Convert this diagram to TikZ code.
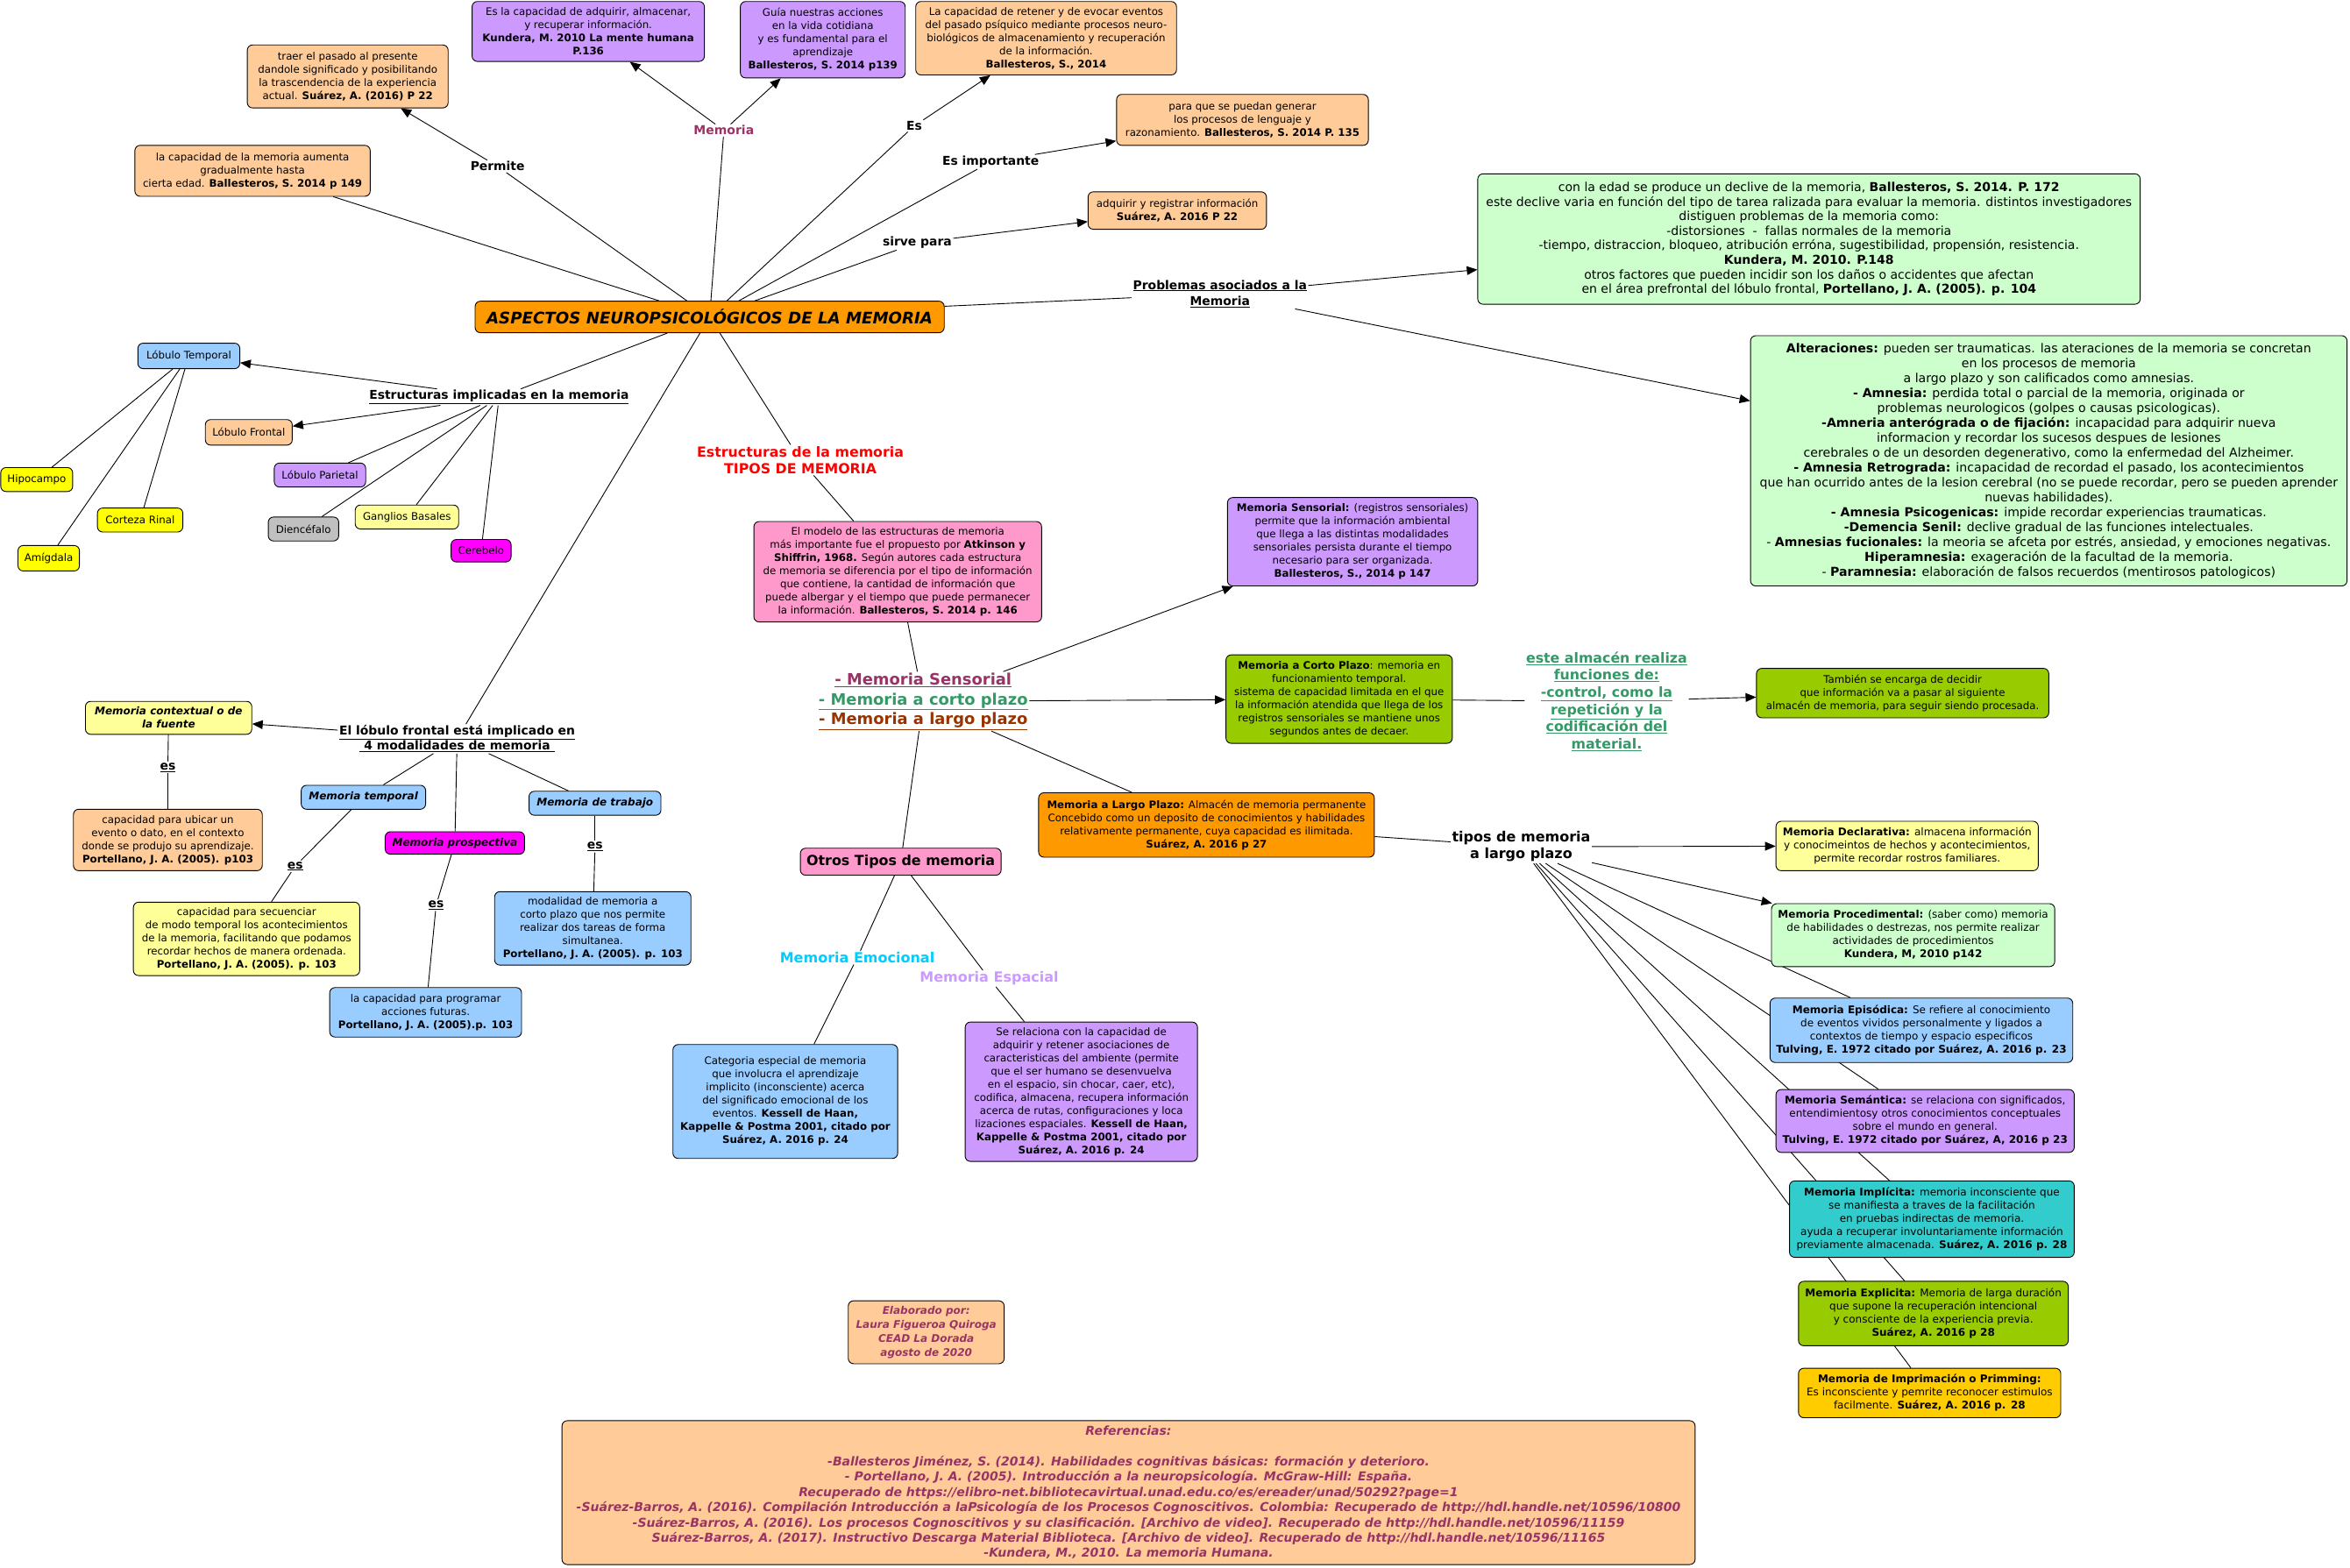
\documentclass[tikz,border=0pt]{standalone}
\usepackage{fontspec}
\setmainfont{DejaVu Sans}
\usepackage{tikz}
\usetikzlibrary{arrows.meta,backgrounds}
\definecolor{peach}{HTML}{FFCC99}
\definecolor{lilac}{HTML}{CC99FF}
\definecolor{sky}{HTML}{99CCFF}
\definecolor{mint}{HTML}{CCFFCC}
\definecolor{leaf}{HTML}{99CC00}
\definecolor{tangerine}{HTML}{FF9900}
\definecolor{blush}{HTML}{FF99CC}
\definecolor{aqua}{HTML}{33CCCC}
\definecolor{sun}{HTML}{FFCC00}
\definecolor{lemon}{HTML}{FFFF00}
\definecolor{cream}{HTML}{FFFF99}
\definecolor{fuchsia}{HTML}{FF00FF}
\definecolor{silver}{HTML}{C0C0C0}
\definecolor{plum}{HTML}{993366}
\definecolor{fern}{HTML}{339966}
\definecolor{rust}{HTML}{993300}
\definecolor{scarlet}{HTML}{FF0000}
\definecolor{azure}{HTML}{00CCFF}
\tikzset{conceptbox/.style={draw=black,line width=.9pt,rounded corners=6pt,align=center,inner sep=2pt,font=\fontsize{11.8}{15}\selectfont},boxsize/.style 2 args={minimum width=#1*1.7098pt,minimum height=#2*1.7098pt},rightbox/.style={conceptbox,font=\fontsize{12}{15}\selectfont},linkword/.style={align=center,inner sep=1.5pt,font=\bfseries\fontsize{13.9}{17}\selectfont},linkline/.style={line width=.9pt},linkarrow/.style={line width=.9pt,-{Triangle[length=12pt,width=10pt]}},modbox/.style={conceptbox,font=\bfseries\itshape\fontsize{12}{15}\selectfont}}

\begin{document}
\begin{tikzpicture}[x=1.7098pt,y=-1.7098pt]
\useasboundingbox (0,0) rectangle (1568,1046);
\node[conceptbox,fill=peach,boxsize={134}{42}] (traer) at (232,51) {traer el pasado al presente\\dandole significado y posibilitando\\la trascendencia de la experiencia\\actual. \textbf{Suárez, A. (2016) P 22}};
\node[conceptbox,fill=lilac,boxsize={155}{40}] (adquirir) at (392.5,21) {Es la capacidad de adquirir, almacenar,\\y recuperar información.\\\textbf{Kundera, M. 2010 La mente humana}\\\textbf{P.136}};
\node[conceptbox,fill=lilac,boxsize={110}{51}] (guia) at (549,26.5) {Guía nuestras acciones\\en la vida cotidiana\\y es fundamental para el\\aprendizaje\\\textbf{Ballesteros, S. 2014 p139}};
\node[conceptbox,fill=peach,boxsize={174}{49}] (retener) at (698,25.5) {La capacidad de retener y de evocar eventos\\del pasado psíquico mediante procesos neuro-\\biológicos de almacenamiento y recuperación\\de la información.\\\textbf{Ballesteros, S., 2014}};
\node[conceptbox,fill=peach,boxsize={168}{34}] (generar) at (829,80) {para que se puedan generar\\los procesos de lenguaje y\\razonamiento. \textbf{Ballesteros, S. 2014 P. 135}};
\node[conceptbox,fill=peach,boxsize={119}{25}] (registrar) at (785.5,140.5) {adquirir y registrar información\\\textbf{Suárez, A. 2016 P 22}};
\node[conceptbox,fill=peach,boxsize={157}{34}] (aumenta) at (168.5,114) {la capacidad de la memoria aumenta\\gradualmente hasta\\cierta edad. \textbf{Ballesteros, S. 2014 p 149}};
\node[conceptbox,fill=tangerine,boxsize={313}{21},font=\bfseries\itshape\fontsize{18.2}{20}\selectfont] (core) at (473.5,211.5) {ASPECTOS NEUROPSICOLÓGICOS DE LA MEMORIA};
\node[conceptbox,fill=mint,boxsize={442}{87},font=\fontsize{14}{16.6}\selectfont] (edad) at (1207,159.5) {con la edad se produce un declive de la memoria, \textbf{Ballesteros, S. 2014. P. 172}\\este declive varia en función del tipo de tarea ralizada para evaluar la memoria. distintos investigadores\\distiguen problemas de la memoria como:\\-distorsiones \ - \ fallas normales de la memoria\\-tiempo, distraccion, bloqueo, atribución erróna, sugestibilidad, propensión, resistencia.\\\textbf{Kundera, M. 2010. P.148}\\otros factores que pueden incidir son los daños o accidentes que afectan\\en el área prefrontal del lóbulo frontal, \textbf{Portellano, J. A. (2005). p. 104}};
\node[conceptbox,fill=mint,boxsize={398}{167},font=\fontsize{14.1}{17}\selectfont] (alter) at (1367,307.5) {\textbf{Alteraciones:} pueden ser traumaticas. las ateraciones de la memoria se concretan\\en los procesos de memoria\\a largo plazo y son calificados como amnesias.\\\textbf{- Amnesia:} perdida total o parcial de la memoria, originada or\\problemas neurologicos (golpes o causas psicologicas).\\\textbf{-Amneria anterógrada o de fijación:} incapacidad para adquirir nueva\\informacion y recordar los sucesos despues de lesiones\\cerebrales o de un desorden degenerativo, como la enfermedad del Alzheimer.\\\textbf{- Amnesia Retrograda:} incapacidad de recordad el pasado, los acontecimientos\\que han ocurrido antes de la lesion cerebral (no se puede recordar, pero se pueden aprender\\nuevas habilidades).\\\textbf{- Amnesia Psicogenicas:} impide recordar experiencias traumaticas.\\\textbf{-Demencia Senil:} declive gradual de las funciones intelectuales.\\- \textbf{Amnesias fucionales:} la meoria se afceta por estrés, ansiedad, y emociones negativas.\\\textbf{Hiperamnesia:} exageración de la facultad de la memoria.\\- \textbf{Paramnesia:} elaboración de falsos recuerdos (mentirosos patologicos)};
\node[linkword,text=plum,font=\bfseries\fontsize{14}{17}\selectfont] (wmem) at (483,87) {Memoria};
\node[linkword] (wperm) at (332,111) {Permite};
\node[linkword] (wes) at (610,84) {Es};
\node[linkword] (wimp) at (661,108) {Es importante};
\node[linkword] (wsirve) at (612,162) {sirve para};
\node[linkword,font=\bfseries\fontsize{13.9}{18.5}\selectfont] (wprob) at (814,196) {\underline{Problemas asociados a la}\\\underline{Memoria}};
\node[linkword] (westr) at (333,265) {\underline{Estructuras implicadas en la memoria}};
\node[linkword,text=scarlet,font=\bfseries\fontsize{15.8}{19.5}\selectfont] (wtipos) at (534,307) {Estructuras de la memoria\\TIPOS DE MEMORIA};
\node[linkword] (wfront) at (305,493) {\underline{El lóbulo frontal está implicado en}\\\underline{ 4 modalidades de memoria }};
\node[linkword,font=\bfseries\fontsize{17.9}{22.5}\selectfont] (wtypes) at (616,468) {{\color{plum}\underline{- Memoria Sensorial}}\\{\color{fern}\underline{- Memoria a corto plazo}}\\{\color{rust}\underline{- Memoria a largo plazo}}};
\node[linkword,text=fern,font=\bfseries\fontsize{15.8}{19.7}\selectfont] (walm) at (1072,468) {\underline{este almacén realiza}\\\underline{funciones de:}\\\underline{-control, como la}\\\underline{repetición y la}\\\underline{codificación del}\\\underline{material.}};
\node[linkword,font=\bfseries\fontsize{16}{19}\selectfont] (wlargo) at (1015,565) {tipos de memoria\\a largo plazo};
\node[linkword,text=azure,font=\bfseries\fontsize{16}{18}\selectfont] (wemo) at (572,639) {Memoria Emocional};
\node[linkword,text=lilac,font=\bfseries\fontsize{16}{18}\selectfont] (wesp) at (660,653) {Memoria Espacial};
\node[linkword] (es1) at (112,512) {\underline{es}};
\node[linkword] (es2) at (197,578) {\underline{es}};
\node[linkword] (es3) at (291,604) {\underline{es}};
\node[linkword] (es4) at (397,565) {\underline{es}};
\node[conceptbox,fill=sky,boxsize={68}{17}] (temporal) at (126,237.5) {Lóbulo Temporal};
\node[conceptbox,fill=peach,boxsize={58}{17}] (frontal) at (166,288.5) {Lóbulo Frontal};
\node[conceptbox,fill=lilac,boxsize={61}{16}] (parietal) at (213.5,317) {Lóbulo Parietal};
\node[conceptbox,fill=silver,boxsize={47}{16}] (dience) at (202.5,353) {Diencéfalo};
\node[conceptbox,fill=cream,boxsize={69}{16}] (ganglios) at (271.5,345) {Ganglios Basales};
\node[conceptbox,fill=fuchsia,boxsize={40}{15}] (cerebelo) at (321,367.5) {Cerebelo};
\node[conceptbox,fill=lemon,boxsize={48}{16}] (hipocampo) at (24.5,320) {Hipocampo};
\node[conceptbox,fill=lemon,boxsize={57}{16}] (corteza) at (93.5,347) {Corteza Rinal};
\node[conceptbox,fill=lemon,boxsize={41}{17}] (amigdala) at (32.5,372.5) {Amígdala};
\node[modbox,fill=cream,boxsize={111}{22}] (contextual) at (112.5,479) {Memoria contextual o de\\la fuente};
\node[conceptbox,fill=peach,boxsize={126}{41}] (ubicar) at (112,560.5) {capacidad para ubicar un\\evento o dato, en el contexto\\donde se produjo su aprendizaje.\\\textbf{Portellano, J. A. (2005). p103}};
\node[modbox,fill=sky,boxsize={83}{16}] (mtemp) at (242.5,532) {Memoria temporal};
\node[conceptbox,fill=cream,boxsize={151}{49}] (secuencia) at (164.5,626.5) {capacidad para secuenciar\\de modo temporal los acontecimientos\\de la memoria, facilitando que podamos\\recordar hechos de manera ordenada.\\\textbf{Portellano, J. A. (2005). p. 103}};
\node[modbox,fill=fuchsia,boxsize={93}{15}] (prosp) at (303.5,562.5) {Memoria prospectiva};
\node[conceptbox,fill=sky,boxsize={128}{33}] (programar) at (284,675.5) {la capacidad para programar\\acciones futuras.\\\textbf{Portellano, J. A. (2005).p. 103}};
\node[modbox,fill=sky,boxsize={88}{16}] (trabajo) at (397,536) {Memoria de trabajo};
\node[conceptbox,fill=sky,boxsize={131}{49}] (modalidad) at (395.5,619.5) {modalidad de memoria a\\corto plazo que nos permite\\realizar dos tareas de forma\\simultanea.\\\textbf{Portellano, J. A. (2005). p. 103}};
\node[conceptbox,fill=blush,boxsize={192}{67}] (modelo) at (599,381.5) {El modelo de las estructuras de memoria\\más importante fue el propuesto por \textbf{Atkinson y}\\\textbf{Shiffrin, 1968.} Según autores cada estructura\\de memoria se diferencia por el tipo de información\\que contiene, la cantidad de información que\\puede albergar y el tiempo que puede permanecer\\la información. \textbf{Ballesteros, S. 2014 p. 146}};
\node[conceptbox,fill=lilac,boxsize={167}{59}] (sensorial) at (902.5,361.5) {\textbf{Memoria Sensorial:} (registros sensoriales)\\permite que la información ambiental\\que llega a las distintas modalidades\\sensoriales persista durante el tiempo\\necesario para ser organizada.\\\textbf{Ballesteros, S., 2014 p 147}};
\node[conceptbox,fill=leaf,boxsize={151}{59}] (corto) at (893.5,466.5) {\textbf{Memoria a Corto Plazo}: memoria en\\funcionamiento temporal.\\sistema de capacidad limitada en el que\\la información atendida que llega de los\\registros sensoriales se mantiene unos\\segundos antes de decaer.};
\node[conceptbox,fill=leaf,boxsize={195}{33}] (tambien) at (1269.5,462.5) {También se encarga de decidir\\que información va a pasar al siguiente\\almacén de memoria, para seguir siendo procesada.};
\node[conceptbox,fill=tangerine,boxsize={224}{43}] (largo) at (805,550.5) {\textbf{Memoria a Largo Plazo:} Almacén de memoria permanente\\Concebido como un deposito de conocimientos y habilidades\\relativamente permanente, cuya capacidad es ilimitada.\\\textbf{Suárez, A. 2016 p 27}};
\node[conceptbox,fill=blush,boxsize={134}{18},font=\bfseries\fontsize{15.9}{18}\selectfont] (otros) at (601,575) {Otros Tipos de memoria};
\node[conceptbox,fill=sky,boxsize={150}{76}] (emocional) at (524,735) {Categoria especial de memoria\\que involucra el aprendizaje\\implicito (inconsciente) acerca\\del significado emocional de los\\eventos. \textbf{Kessell de Haan,}\\\textbf{Kappelle \& Postma 2001, citado por}\\\textbf{Suárez, A. 2016 p. 24}};
\node[conceptbox,fill=lilac,boxsize={155}{93}] (espacial) at (721.5,728.5) {Se relaciona con la capacidad de\\adquirir y retener asociaciones de\\caracteristicas del ambiente (permite\\que el ser humano se desenvuelva\\en el espacio, sin chocar, caer, etc),\\codifica, almacena, recupera información\\acerca de rutas, configuraciones y loca\\lizaciones espaciales. \textbf{Kessell de Haan,}\\\textbf{Kappelle \& Postma 2001, citado por}\\\textbf{Suárez, A. 2016 p. 24}};
\node[rightbox,fill=cream,boxsize={175}{33}] (declar) at (1272.5,564.5) {\textbf{Memoria Declarativa:} almacena información\\y conocimeintos de hechos y acontecimientos,\\permite recordar rostros familiares.};
\node[rightbox,fill=mint,boxsize={189}{42}] (proced) at (1276.5,624) {\textbf{Memoria Procedimental:} (saber como) memoria\\de habilidades o destrezas, nos permite realizar\\actividades de procedimientos\\\textbf{Kundera, M, 2010 p142}};
\node[rightbox,fill=sky,boxsize={202}{43}] (episod) at (1282,687.5) {\textbf{Memoria Episódica:} Se refiere al conocimiento\\de eventos vividos personalmente y ligados a\\contextos de tiempo y espacio especificos\\\textbf{Tulving, E. 1972 citado por Suárez, A. 2016 p. 23}};
\node[rightbox,fill=lilac,boxsize={199}{42}] (semant) at (1284.5,748) {\textbf{Memoria Semántica:} se relaciona con significados,\\entendimientosy otros conocimientos conceptuales\\sobre el mundo en general.\\\textbf{Tulving, E. 1972 citado por Suárez, A, 2016 p 23}};
\node[rightbox,fill=aqua,boxsize={190}{51}] (implic) at (1289,813.5) {\textbf{Memoria Implícita:} memoria inconsciente que\\se manifiesta a traves de la facilitación\\en pruebas indirectas de memoria.\\ayuda a recuperar involuntariamente información\\previamente almacenada. \textbf{Suárez, A. 2016 p. 28}};
\node[rightbox,fill=leaf,boxsize={180}{43}] (explic) at (1290,876.5) {\textbf{Memoria Explicita:} Memoria de larga duración\\que supone la recuperación intencional\\y consciente de la experiencia previa.\\\textbf{Suárez, A. 2016 p 28}};
\node[rightbox,fill=sun,boxsize={175}{33}] (imprim) at (1287.5,929.5) {\textbf{Memoria de Imprimación o Primming:}\\Es inconsciente y pemrite reconocer estimulos\\facilmente. \textbf{Suárez, A. 2016 p. 28}};
\node[conceptbox,fill=peach,boxsize={104}{42},text=plum,font=\bfseries\itshape\fontsize{12}{16}\selectfont] (elaborado) at (618,889) {Elaborado por:\\Laura Figueroa Quiroga\\CEAD La Dorada\\agosto de 2020};
\node[conceptbox,fill=peach,boxsize={756}{96},text=plum,font=\bfseries\itshape\fontsize{14}{17.4}\selectfont] (refs) at (753,996) {Referencias:\\[17.4pt]-Ballesteros Jiménez, S. (2014). Habilidades cognitivas básicas: formación y deterioro.\\- Portellano, J. A. (2005). Introducción a la neuropsicología. McGraw-Hill: España.\\Recuperado de https://elibro-net.bibliotecavirtual.unad.edu.co/es/ereader/unad/50292?page=1\\-Suárez-Barros, A. (2016). Compilación Introducción a laPsicología de los Procesos Cognoscitivos. Colombia: Recuperado de http://hdl.handle.net/10596/10800\\-Suárez-Barros, A. (2016). Los procesos Cognoscitivos y su clasificación. [Archivo de video]. Recuperado de http://hdl.handle.net/10596/11159\\Suárez-Barros, A. (2017). Instructivo Descarga Material Biblioteca. [Archivo de video]. Recuperado de http://hdl.handle.net/10596/11165\\-Kundera, M., 2010. La memoria Humana.};
\begin{pgfonlayer}{background}
\foreach \u/\v in {core/wmem,core/wperm,core/wes,core/wimp,core/wsirve,core/wprob,core/westr,core/wtipos,core/wfront,aumenta/core,westr/parietal,westr/dience,westr/ganglios,westr/cerebelo,temporal/hipocampo,temporal/amigdala,temporal/corteza,wtipos/modelo,modelo/wtypes,wfront/mtemp,wfront/prosp,wfront/trabajo,contextual/es1,es1/ubicar,mtemp/es2,es2/secuencia,prosp/es3,es3/programar,trabajo/es4,es4/modalidad,wtypes/largo,wtypes/otros,corto/walm,largo/wlargo,wlargo/episod,wlargo/semant,wlargo/implic,wlargo/explic,wlargo/imprim,otros/wemo,wemo/emocional,otros/wesp,wesp/espacial}{\draw[linkline] (\u)--(\v);}
\foreach \u/\v in {wmem/adquirir,wmem/guia,wperm/traer,wes/retener,wimp/generar,wsirve/registrar,wprob/edad,wprob/alter,westr/temporal,westr/frontal,wfront/contextual,wtypes/sensorial,wtypes/corto,walm/tambien,wlargo/declar,wlargo/proced}{\draw[linkarrow] (\u)--(\v);}
\end{pgfonlayer}
\end{tikzpicture}
\end{document}
